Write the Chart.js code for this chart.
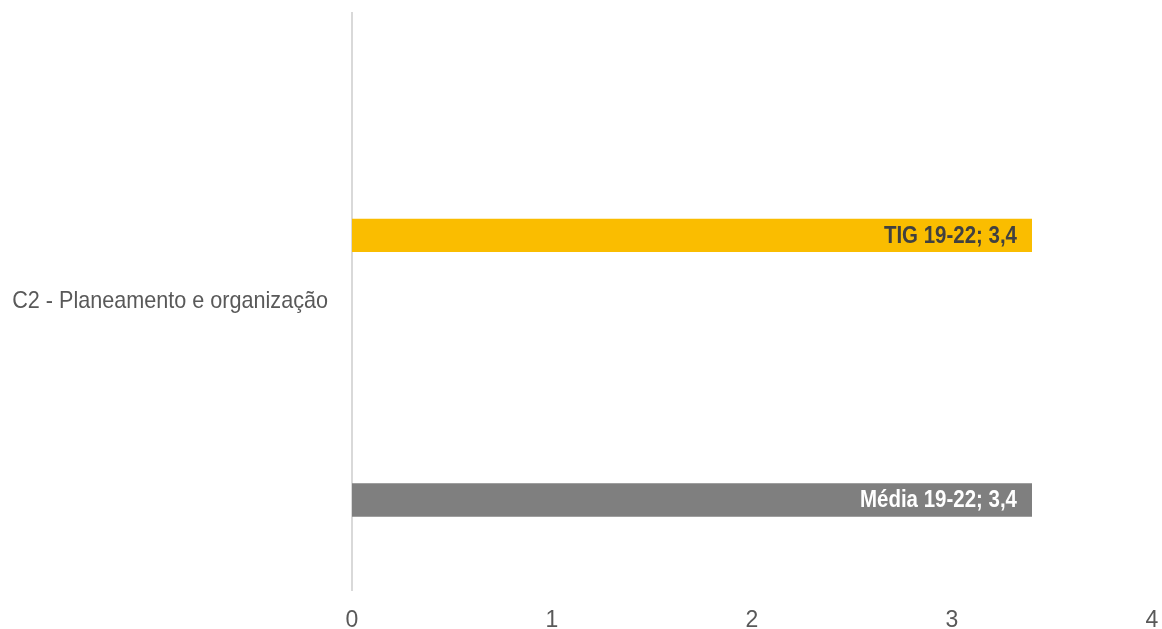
<!DOCTYPE html>
<html>
<head>
<meta charset="utf-8">
<script src="https://cdn.jsdelivr.net/npm/chart.js@4"></script>
<style>
  html, body { margin: 0; padding: 0; background: #ffffff; }
  #wrap { width: 1162px; height: 629px; }
</style>
</head>
<body>
<div id="wrap"><canvas id="c" width="1162" height="629"></canvas></div>
<script>
// ---- data ----
const categories = ["C2 - Planeamento e organização"];
const seriesNames = ["", "TIG 19-22", " ", "Média 19-22"];
const seriesTop = [null];        // empty series slot
const tigValues = [3.4];
const seriesMid = [null];        // empty series slot
const mediaValues = [3.4];
const xTicks = [0, 1, 2, 3, 4];

const YELLOW = "#FABD00";
const GREY = "#7F7F7F";
const SANS = "'Liberation Sans', Arial, sans-serif";

const fmt = v => String(v).replace('.', ',');

// draws text horizontally condensed (emulating a narrow typeface)
function narrowText(ctx, text, x, y, font, color, squeeze) {
  ctx.save();
  ctx.font = font;
  ctx.fillStyle = color;
  ctx.textAlign = 'right';
  ctx.textBaseline = 'middle';
  ctx.translate(x, y);
  ctx.scale(squeeze, 1);
  ctx.fillText(text, 0, 0);
  ctx.restore();
}

const labelPlugin = {
  id: 'barLabels',
  afterDraw(chart) {
    const ctx = chart.ctx;
    // category labels
    const ys = chart.scales.y;
    chart.data.labels.forEach((lab, i) => {
      narrowText(ctx, lab, ys.right - 24, ys.getPixelForTick(i), "24px " + SANS, "#595959", 0.9);
    });
    // data labels
    chart.data.datasets.forEach((ds, i) => {
      if (!ds.labelColor) return;
      const meta = chart.getDatasetMeta(i);
      meta.data.forEach((el, j) => {
        const v = ds.data[j];
        if (v === null || v === undefined) return;
        narrowText(ctx, ds.label + "; " + fmt(v), el.x - 15, el.y + 1, "bold 23px " + SANS, ds.labelColor, 0.89);
      });
    });
  }
};

new Chart(document.getElementById('c'), {
  type: 'bar',
  data: {
    labels: categories,
    datasets: [
      { label: seriesNames[0], data: seriesTop, backgroundColor: YELLOW },
      { label: seriesNames[1], data: tigValues, backgroundColor: YELLOW, labelColor: "#404040" },
      { label: seriesNames[2], data: seriesMid, backgroundColor: GREY },
      { label: seriesNames[3], data: mediaValues, backgroundColor: GREY, labelColor: "#ffffff" }
    ]
  },
  options: {
    indexAxis: 'y',
    responsive: false,
    animation: false,
    devicePixelRatio: 1,
    layout: { padding: { left: 0, right: 10, top: 13, bottom: 0 } },
    datasets: { bar: { categoryPercentage: 0.917, barPercentage: 0.253 } },
    plugins: { legend: { display: false }, tooltip: { enabled: false } },
    scales: {
      x: {
        type: 'linear',
        min: 0, max: 4,
        afterBuildTicks(s) { s.ticks = xTicks.map(v => ({ value: v })); },
        afterFit(s) { s.height = 39; s.paddingLeft = 0; s.paddingRight = 0; },
        grid: { display: false, drawTicks: false },
        border: { display: false },
        ticks: {
          padding: 17,
          color: "#595959",
          font: { family: SANS, size: 23 },
          callback: v => fmt(v)
        }
      },
      y: {
        afterFit(s) { s.width = 352; s.paddingTop = 0; s.paddingBottom = 0; },
        grid: { display: false, drawTicks: false },
        border: { display: true, color: "#D9D9D9", width: 2 },
        ticks: { display: false }
      }
    }
  },
  plugins: [labelPlugin]
});
</script>
</body>
</html>
